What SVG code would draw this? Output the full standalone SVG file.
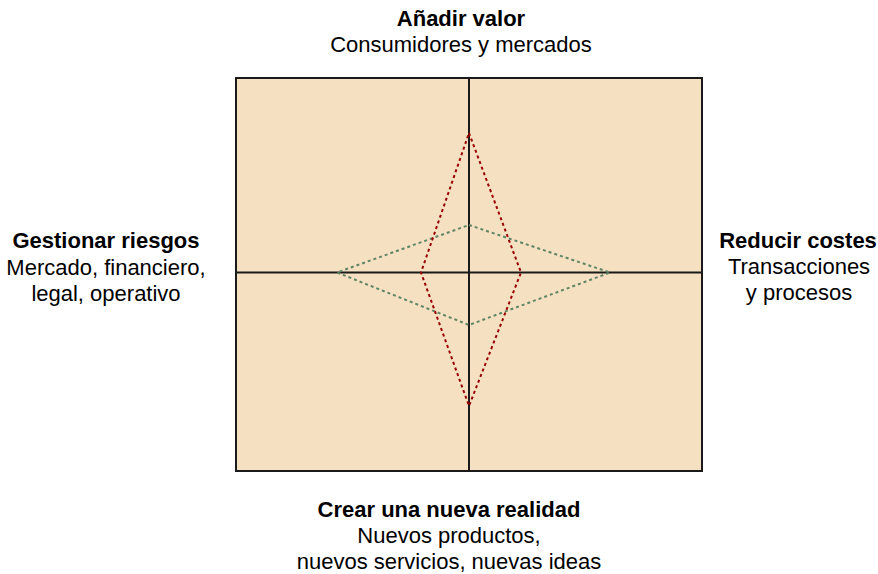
<svg xmlns="http://www.w3.org/2000/svg" width="878" height="574" viewBox="0 0 878 574">
<style>
text{font-family:"Liberation Sans",Arial,sans-serif;font-size:22px;fill:#000;text-anchor:middle}
.b{font-weight:bold}
.axis{stroke:#1a1a1a;stroke-width:2;fill:none}
.frame{stroke:#1a1a1a;stroke-width:2;fill:#f5e0c1}
.red{stroke:#990000;stroke-width:2;stroke-dasharray:3 3;fill:none}
.green{stroke:#5e8566;stroke-width:2;stroke-dasharray:3 3;fill:none}
</style>
<rect width="878" height="574" fill="#fff"/>
<g id="plot">
<rect class="frame" x="236" y="78" width="466" height="393"/>
</g>
<g id="connectors">
<line class="axis" x1="469" y1="78" x2="469" y2="471"/>
<line class="axis" x1="236" y1="272.5" x2="702" y2="272.5"/>
<polygon class="green" points="469,225 610,272.5 469,325 337,272.5"/>
<polygon class="red" points="469,133 521,272.5 469,406 421,272.5"/>
</g>
<g id="top"><text class="b" x="461" y="26">Añadir valor</text><text x="461" y="52">Consumidores y mercados</text></g>
<g id="left"><text class="b" x="106" y="248">Gestionar riesgos</text><text x="106" y="275">Mercado, financiero,</text><text x="106" y="301">legal, operativo</text></g>
<g id="right"><text class="b" x="798" y="248">Reducir costes</text><text x="799" y="274">Transacciones</text><text x="799" y="300">y procesos</text></g>
<g id="bottom"><text class="b" x="449" y="517">Crear una nueva realidad</text><text x="449" y="543">Nuevos productos,</text><text x="449" y="569">nuevos servicios, nuevas ideas</text></g>
</svg>
